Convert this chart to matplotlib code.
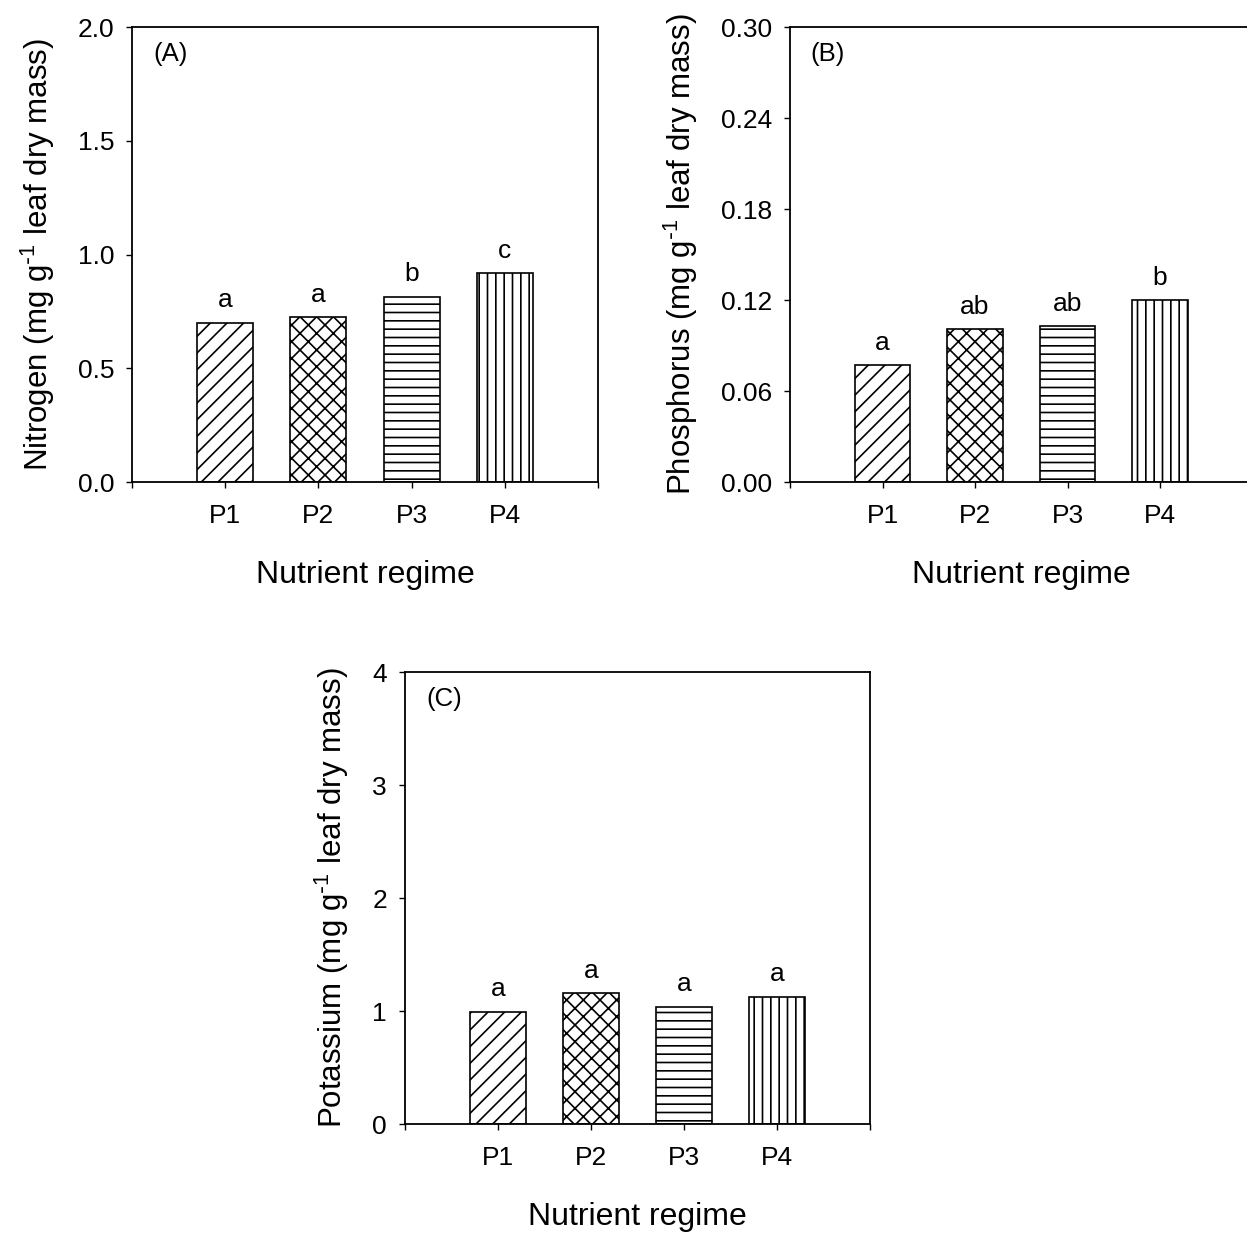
import matplotlib
matplotlib.use("Agg")
import matplotlib.pyplot as plt

plt.rcParams["font.family"] = ["Liberation Sans", "DejaVu Sans"]
plt.rcParams["mathtext.default"] = "regular"
plt.rcParams["hatch.linewidth"] = 1.2

regimes = ["P1", "P2", "P3", "P4"]
nitrogen = [0.70, 0.724, 0.815, 0.917]
phosphorus = [0.077, 0.101, 0.103, 0.120]
potassium = [0.994, 1.157, 1.038, 1.127]
letters_n = ["a", "a", "b", "c"]
letters_p = ["a", "ab", "ab", "b"]
letters_k = ["a", "a", "a", "a"]
hatches = ["//", "xx", "--", "||"]

fig = plt.figure(figsize=(12.47, 12.34), dpi=100, facecolor="white")


def panel(rect, values, letters, ylim, yticks, yfmt, ylabel, tag):
    ax = fig.add_axes(rect)
    x = range(1, len(values) + 1)
    bars = ax.bar(x, values, width=0.6, color="white", edgecolor="black",
                  linewidth=1.2, hatch=hatches)
    for b, v, t in zip(bars, values, letters):
        ax.annotate(t, (b.get_x() + b.get_width() / 2, v), xytext=(0, 11),
                    textcoords="offset points", ha="center", va="baseline",
                    fontsize=19)
    ax.set_xlim(0, 5)
    ax.set_ylim(*ylim)
    ax.set_xticks(range(6))
    ax.set_xticklabels([""] + regimes + [""])
    ax.set_yticks(yticks)
    ax.set_yticklabels([yfmt.format(v) for v in yticks])
    ax.tick_params(direction="out", length=4, width=1.0, labelsize=19)
    ax.tick_params(axis="y", pad=9)
    ax.tick_params(axis="x", pad=12)
    for s in ax.spines.values():
        s.set_linewidth(1.3)
    ax.set_xlabel("Nutrient regime", fontsize=23, labelpad=23)
    ax.set_ylabel(ylabel + r" (mg g$^{\text{-}1}$ leaf dry mass)", fontsize=22.5,
                  labelpad=15)
    ax.text(0.045, 0.94, tag, transform=ax.transAxes, fontsize=18.5,
            ha="left", va="center")
    return ax


panel([0.1059, 0.6094, 0.3737, 0.3687], nitrogen, letters_n, (0, 2.0),
      [0.0, 0.5, 1.0, 1.5, 2.0], "{:.1f}", "Nitrogen", "(A)")
axb = panel([0.6335, 0.6094, 0.371, 0.3687], phosphorus, letters_p, (0, 0.30),
            [0.0, 0.06, 0.12, 0.18, 0.24, 0.30], "{:.2f}", "Phosphorus", "(B)")
axb.spines["right"].set_visible(False)
panel([0.3248, 0.0891, 0.3729, 0.3663], potassium, letters_k, (0, 4),
      [0, 1, 2, 3, 4], "{:d}", "Potassium", "(C)")

fig.savefig("out.png", dpi=100)
